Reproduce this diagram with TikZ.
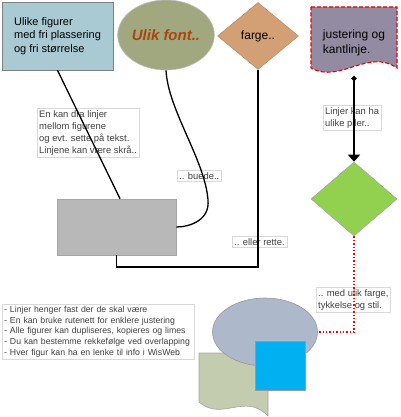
\documentclass[tikz,border=0pt]{standalone}
\usepackage{fontspec}
\setmainfont{Liberation Sans}
\usepackage{tikz}
\usetikzlibrary{shapes.geometric, arrows.meta, calc, positioning}
\usepackage{xcolor}
\definecolor{pastelblue}{RGB}{169, 202, 211}
\definecolor{olivegrey}{RGB}{161, 168, 128}
\definecolor{fawn}{RGB}{211, 160, 118}
\definecolor{lavendergrey}{RGB}{147, 139, 161}
\definecolor{silvergrey}{RGB}{184, 184, 184}
\definecolor{yellowgreen}{RGB}{146, 208, 80}
\definecolor{cadetgrey}{RGB}{173, 185, 202}
\definecolor{sagegrey}{RGB}{196, 204, 175}
\definecolor{skyblue}{RGB}{0, 176, 240}
\definecolor{rustbrown}{RGB}{166, 72, 14}

\begin{document}
\begin{tikzpicture}[x=1pt, y=-1pt, >=Stealth]
    \useasboundingbox (0,0) rectangle (400,417);
    \tikzstyle{textbox}=[draw=black!15, fill=white, text=black!75, inner sep=2pt, align=left, anchor=north west, font=\fontsize{9.4}{12}\selectfont]
    \tikzstyle{figshape}=[draw=black!45, line width=0.6pt, inner sep=0pt]
    \tikzstyle{link}=[line width=1.3pt]

    % Text boxes (lines run over them)
    \node (txtdra)[textbox] at (37,108) {En kan dra linjer\\mellom figurene\\og evt. sette på tekst.\\Linjene kan være skrå..};
    \node (txtbue)[textbox] at (177,170) {.. buede..};
    \node (txtpil)[textbox] at (323,105) {Linjer kan ha\\ulike piler..};
    \node (txtrett)[textbox] at (232,236) {.. eller rette.};
    \node (txtstil)[textbox] at (316,287) {.. med ulik farge,\\tykkelse og stil.};
    \node (txtliste)[textbox, text width=188pt, font=\fontsize{8.7}{10.7}\selectfont] at (2,304)
        {- Linjer henger fast der de skal være\\- En kan bruke rutenett for enklere justering\\- Alle figurer kan dupliseres, kopieres og limes\\- Du kan bestemme rekkefølge ved overlapping\\- Hver figur kan ha en lenke til info i WisWeb};

    % Top row of shapes
    \node (figbox)[figshape, rectangle, fill=pastelblue, draw=black!50, minimum width=111pt, minimum height=68pt, align=left, font=\fontsize{11}{13.5}\selectfont] at (57.5,36)
        {Ulike figurer\\med fri plassering\\og fri størrelse};
    \node (fontell)[figshape, ellipse, fill=olivegrey, draw=black!25, minimum width=82pt, minimum height=70pt, text=rustbrown, font=\fontsize{15}{18}\selectfont\bfseries\itshape] at (166,35) {Ulik font..};
    \node (colordia)[figshape, diamond, fill=fawn, draw=fawn!90!black, minimum width=81pt, minimum height=67pt, font=\fontsize{12}{15}\selectfont] at (258,36) {farge..};

    % Document shape with dashed border
    \draw[fill=lavendergrey, draw=red!90!black, line width=1.1pt, dash pattern=on 4pt off 2pt]
        (311,7) -- (397,7) -- (397,68) .. controls (368,48) and (340,84) .. (311,68) -- cycle;
    \node (docjust)[align=left, font=\fontsize{12}{15}\selectfont] at (354,42.5) {justering og\\kantlinje.};
    \coordinate (docfoot) at (354,76);

    % Middle shapes
    \node (greybox)[figshape, rectangle, fill=silvergrey, draw=black!35, minimum width=119pt, minimum height=56pt] at (116.5,227) {};
    \node (greendia)[figshape, diamond, fill=yellowgreen, draw=black!35, minimum width=86pt, minimum height=74pt] at (354,199) {};

    % Overlapping shapes at the bottom
    \draw[fill=sagegrey, draw=black!35, line width=0.6pt]
        (199,353) -- (268,353) -- (268,416) .. controls (245,392) and (222,422) .. (199,402) -- cycle;
    \node (stilell)[figshape, ellipse, fill=cadetgrey, draw=black!40, minimum width=105pt, minimum height=68pt] at (265,332) {};
    \node (stilsq)[figshape, rectangle, fill=skyblue, draw=black!40, minimum width=50pt, minimum height=49pt] at (280,365.5) {};

    % Connectors
    \draw[link] (figbox.south) -- ([xshift=3.5pt]greybox.north); % straight, slanted
    \draw[link] (fontell.south) .. controls (168,110) and (205,160) .. (208,200)
        .. controls (210,220) and (190,227) .. (greybox.east); % curved
    \coordinate (turn) at (258,267);
    \draw[link] (colordia.south) -- (turn) -| (greybox.south); % right angle
    \draw[link, {Circle[length=5pt]}-{Triangle[length=7pt, width=12pt]}] (docfoot) -- (greendia.north);
    \draw[red, line width=1.4pt, dotted] (greendia.south) |- (stilell.east);
\end{tikzpicture}
\end{document}
